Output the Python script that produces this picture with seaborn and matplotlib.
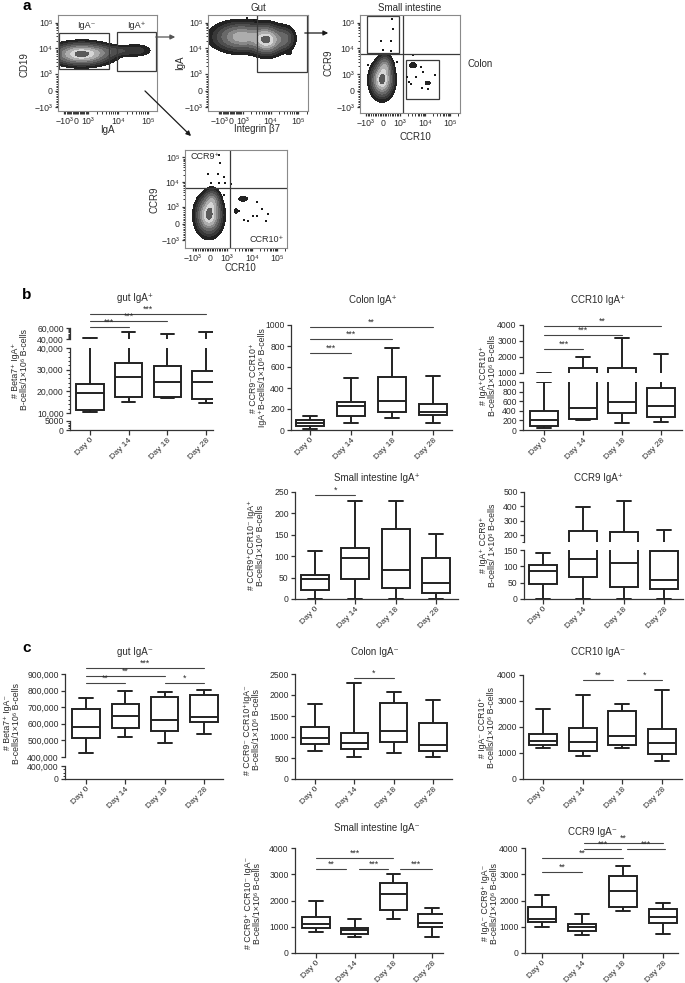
import numpy as np
import pandas as pd
import matplotlib
matplotlib.use("Agg")
import matplotlib.pyplot as plt
import seaborn as sns
from matplotlib.patches import Rectangle, FancyArrowPatch
from matplotlib.scale import SymmetricalLogTransform

# ---------------------------------------------------------------- data
DAYS = ["Day 0", "Day 14", "Day 18", "Day 28"]

# five-number summaries per day: (min, Q1, median, Q3, max)
gut_iga_pos = [(10300, 11400, 19100, 23250, 41000), (14900, 17500, 26750, 33200, 52700),
               (16900, 17200, 24200, 31700, 49000), (14500, 16300, 24200, 29400, 52700)]
colon_iga_pos = [(10, 35, 65, 100, 130), (65, 130, 230, 265, 500),
                 (110, 170, 275, 505, 780), (65, 140, 175, 245, 510)]
ccr10_iga_pos = [(50, 85, 210, 390, 1000), (200, 220, 450, 1310, 2000),
                 (155, 360, 585, 1300, 3200), (170, 275, 500, 870, 2200)]
si_iga_pos = [(0, 22, 46, 55, 111), (0, 46, 95, 120, 230),
              (0, 25, 68, 163, 230), (0, 15, 38, 95, 151)]
ccr9_iga_pos = [(0, 47, 86, 104, 142), (0, 66, 121, 228, 395),
                (0, 37, 109, 223, 435), (0, 31, 59, 146, 235)]
gut_iga_neg = [(426000, 516000, 580000, 692000, 756000), (520000, 576000, 646000, 720000, 796000),
               (482000, 556000, 622000, 760000, 792000), (536000, 610000, 640000, 772000, 806000)]
colon_iga_neg = [(675, 825, 968, 1230, 1786), (516, 706, 865, 1087, 2294),
                 (627, 873, 1143, 1817, 2079), (532, 659, 802, 1341, 1881)]
ccr10_iga_neg = [(1175, 1290, 1456, 1724, 2707), (894, 1086, 1405, 1967, 3218),
                 (1188, 1303, 1648, 2618, 2899), (702, 945, 1367, 1916, 3410)]
si_iga_neg = [(800, 952, 1104, 1370, 1992), (609, 736, 863, 952, 1294),
              (1294, 1637, 2246, 2665, 3000), (622, 990, 1142, 1497, 1700)]
ccr9_iga_neg = [(990, 1193, 1294, 1739, 2221), (673, 825, 977, 1104, 1497),
                (1612, 1751, 2348, 2944, 3299), (711, 1142, 1358, 1687, 1903)]

# significance brackets: (from group, to group, y value, label)
gut_iga_pos_sig = [(0, 1, 61800, "***"), (0, 2, 72700, "***"), (0, 3, 85500, "***")]
colon_iga_pos_sig = [(0, 1, 733, "***"), (0, 2, 867, "***"), (0, 3, 981, "**")]
ccr10_iga_pos_sig = [(0, 1, 2500, "***"), (0, 2, 3375, "***"), (0, 3, 3940, "**")]
si_iga_pos_sig = [(0, 1, 243, "*")]
ccr9_iga_pos_sig = []
gut_iga_neg_sig = [(0, 1, 843000, "**"), (2, 3, 843000, "*"), (0, 2, 890000, "**"), (0, 3, 936000, "***")]
colon_iga_neg_sig = [(1, 2, 2405, "*")]
ccr10_iga_neg_sig = [(1, 1.77, 3810, "**"), (2.12, 3, 3810, "*")]
si_iga_neg_sig = [(0, 0.77, 3200, "**"), (1.1, 1.87, 3200, "***"), (2.18, 3, 3200, "***"),
                  (0, 2, 3620, "***")]
ccr9_iga_neg_sig = [(0, 1, 3085, "**"), (0, 2, 3620, "**"), (1.05, 1.95, 3960, "***"),
                    (2.1, 3.05, 3960, "***"), (1.05, 3, 4190, "**")]

# flow cytometry populations: (centre x, centre y, spread x [decades], spread y [decades], weight)
cd19_iga_pops = [(450, 6000, 0.48, 0.21, 1.0), (3500, 7500, 0.30, 0.13, 0.12),
                 (12000, 8000, 0.25, 0.11, 0.10), (40000, 8300, 0.28, 0.13, 0.12)]
gut_pops = [(900, 28000, 0.50, 0.28, 0.75), (7500, 21000, 0.28, 0.28, 1.0),
            (32000, 24000, 0.20, 0.25, 0.30), (46000, 6600, 0.05, 0.05, 0.06)]
si_colon_pops = [(-60, 640, 0.22, 0.33, 1.0), (118, 2000, 0.15, 0.22, 0.4),
                 (3300, 2200, 0.10, 0.08, 0.07), (13000, 460, 0.09, 0.06, 0.06)]
ccr_pops = [(-60, 500, 0.25, 0.38, 1.0), (118, 1700, 0.16, 0.24, 0.4),
            (4400, 2100, 0.15, 0.08, 0.06), (2300, 760, 0.06, 0.10, 0.05)]
si_colon_dots_x = [530, 590, -118, 470, 20, 470, 3300, 820, -880, 6900, 8300, 1900, 2300,
                   2750, 7600, 13000, 25000, 4400]
si_colon_dots_y = [140000, 57000, 19500, 19500, 8700, 7900, 5500, 2950, 2240, 1900, 1200, 830,
                   520, 400, 150, 100, 940, 830]
ccr_dots_x = [530, 590, -118, 470, 820, 60, 530, 880, -760, 1450, 820, 16000, 25000, 44000,
              4800, 6900, 16000, 36000, 11000, 3000]
ccr_dots_y = [130000, 57000, 21000, 21000, 16000, 9100, 9100, 9100, 2300, 8300, 3000, 1600, 880,
              590, 235, 176, 470, 176, 470, 760]

# ---------------------------------------------------------------- style
sns.set_theme(style="ticks")
plt.rcParams["font.family"] = ["Liberation Sans", "DejaVu Sans"]
INK = "#222222"
TXT = "#2b2b2b"
plt.rcParams.update({
    "axes.edgecolor": "#333333", "axes.linewidth": 0.9,
    "xtick.color": "#333333", "ytick.color": "#333333",
    "xtick.labelcolor": TXT, "ytick.labelcolor": TXT,
    "xtick.labelsize": 6.2, "ytick.labelsize": 6.2,
    "xtick.major.size": 3, "ytick.major.size": 3,
    "xtick.major.width": 0.9, "ytick.major.width": 0.9,
    "ytick.minor.size": 1.8, "ytick.minor.width": 0.7,
    "xtick.minor.size": 1.8, "xtick.minor.width": 0.7,
    "xtick.major.pad": 1.5, "ytick.major.pad": 1.5,
})

W, H = 685, 983
fig = plt.figure(figsize=(W / 100, H / 100), dpi=100)


def px_axes(x0, y0, x1, y1):
    return fig.add_axes([x0 / W, 1 - y1 / H, (x1 - x0) / W, (y1 - y0) / H])


def ftext(x, y, s, **kw):
    kw.setdefault("color", TXT)
    return fig.text(x / W, 1 - y / H, s, **kw)


# ---------------------------------------------------------------- panel a (flow)
LT = 1000
LEVELS = [0.03, 0.08, 0.15, 0.25, 0.4, 0.55, 0.75, 0.9, 1.01]
SHADES = ["#222222", "#383838", "#4e4e4e", "#686868", "#888888", "#adadad", "#d6d6d6", "#5a5a5a"]
FLOW_TICKS = [-1000, 0, 1000, 1e4, 1e5]
FLOW_LABELS = ["\u221210\u00b3", "0", "10\u00b3", "10\u2074", "10\u2075"]
FLOW_MINOR = (list(np.arange(-900, 901, 100)) + list(np.arange(2e3, 1e4, 1e3))
              + list(np.arange(2e4, 1e5, 1e4)) + [2e5])


def flow_axes(rect, xlim, ylim, xL, yL, pops):
    ax = px_axes(*rect)
    ax.set_xscale("symlog", base=10, linthresh=LT, linscale=xL * 0.9)
    ax.set_yscale("symlog", base=10, linthresh=LT, linscale=yL * 0.9)
    tx = SymmetricalLogTransform(10, LT, xL * 0.9)
    ty = SymmetricalLogTransform(10, LT, yL * 0.9)
    # transformed coordinates in decades
    ux = np.linspace(*(tx.transform(np.array(xlim, float)) / LT), 300)
    uy = np.linspace(*(ty.transform(np.array(ylim, float)) / LT), 300)
    UX, UY = np.meshgrid(ux, uy)
    D = np.zeros_like(UX)
    for cx, cy, sx, sy, w in pops:
        ucx = tx.transform(np.array([cx], float))[0] / LT
        ucy = ty.transform(np.array([cy], float))[0] / LT
        D += w * np.exp(-0.5 * (((UX - ucx) / sx) ** 2 + ((UY - ucy) / sy) ** 2))
    D /= D.max()
    X = tx.inverted().transform(ux * LT)
    Y = ty.inverted().transform(uy * LT)
    ax.contourf(X, Y, D, levels=LEVELS, colors=SHADES)
    ax.set_xlim(xlim)
    ax.set_ylim(ylim)
    ax.set_xticks(FLOW_TICKS)
    ax.set_xticklabels(FLOW_LABELS)
    ax.set_yticks(FLOW_TICKS)
    ax.set_yticklabels(FLOW_LABELS)
    ax.set_xticks([v for v in FLOW_MINOR if xlim[0] < v < xlim[1]], minor=True)
    ax.set_yticks([v for v in FLOW_MINOR if ylim[0] < v < ylim[1]], minor=True)
    ax.tick_params(labelsize=6.3, length=2.5)
    for s in ax.spines.values():
        s.set_color("#8a8a8a")
        s.set_linewidth(0.8)
    ax.set_facecolor("white")
    return ax


def gate(ax, x0, x1, y0, y1):
    ax.add_patch(Rectangle((x0, y0), x1 - x0, y1 - y0, fill=False, ec="#3a3a3a", lw=0.9))


# plot 1: CD19 vs IgA
ax1 = flow_axes((58, 15, 157, 111), (-1600, 2e5), (-1400, 2e5), 0.4, 0.65, cd19_iga_pops)
gate(ax1, -1480, 5000, 1580, 40000)
gate(ax1, 9300, 1.85e5, 1300, 44000)
ax1.text(830, 80000, "IgA\u207b", ha="center", va="center", fontsize=6.5, color=TXT)
ax1.text(40000, 80000, "IgA\u207a", ha="center", va="center", fontsize=6.5, color=TXT)
ftext(107, 130, "IgA", ha="center", va="center", fontsize=7)
ftext(25, 65, "CD19", ha="center", va="center", rotation=90, fontsize=7)

# plot 2: IgA vs Integrin b7 (gut)
ax2 = flow_axes((208, 15, 308, 111), (-2500, 2.2e5), (-1400, 2e5), 0.42, 0.65, gut_pops)
gate(ax2, 3300, 2e5, 1200, 2e5)
ax2.scatter([2600, 3000, 1400], [1.3e5, 1.1e5, 1.5e5], s=1.5, c="k", marker="s", lw=0)
ftext(258, 8, "Gut", ha="center", va="center", fontsize=7)
ftext(257, 129, "Integrin \u03b27", ha="center", va="center", fontsize=7)
ftext(180, 63, "IgA", ha="center", va="center", rotation=90, fontsize=7)

# plot 3: CCR9 vs CCR10 (small intestine / colon)
ax3 = flow_axes((360, 15, 460, 113), (-1740, 2.5e5), (-1660, 2e5), 0.68, 0.65, si_colon_pops)
ax3.axvline(1300, color="#3a3a3a", lw=0.9)
ax3.axhline(6000, color="#3a3a3a", lw=0.9)
gate(ax3, -940, 940, 6600, 1.9e5)
gate(ax3, 1740, 36000, -490, 3500)
ax3.scatter(si_colon_dots_x, si_colon_dots_y, s=2, c="k", marker="s", lw=0)
ftext(410, 8, "Small intestine", ha="center", va="center", fontsize=7)
ftext(415, 137, "CCR10", ha="center", va="center", fontsize=7)
ftext(329, 63, "CCR9", ha="center", va="center", rotation=90, fontsize=7)
ftext(468, 64, "Colon", ha="left", va="center", fontsize=7)

# plot 4: CCR9 vs CCR10 (all IgA+)
ax4 = flow_axes((185, 150, 287, 248), (-2090, 2.5e5), (-2040, 2e5), 0.68, 0.68, ccr_pops)
ax4.axvline(1300, color="#3a3a3a", lw=0.9)
ax4.axhline(5750, color="#3a3a3a", lw=0.9)
ax4.scatter(ccr_dots_x, ccr_dots_y, s=2, c="k", marker="s", lw=0)
ax4.text(0.05, 0.93, "CCR9\u207a", transform=ax4.transAxes, ha="left", va="center", fontsize=6.5, color=TXT)
ax4.text(0.97, 0.09, "CCR10\u207a", transform=ax4.transAxes, ha="right", va="center", fontsize=6.5, color=TXT)
ftext(240, 268, "CCR10", ha="center", va="center", fontsize=7)
ftext(155, 200, "CCR9", ha="center", va="center", rotation=90, fontsize=7)


def arrow(p, q, color="k"):
    a = FancyArrowPatch((p[0] / W, 1 - p[1] / H), (q[0] / W, 1 - q[1] / H), transform=fig.transFigure,
                        arrowstyle="-|>", mutation_scale=7, lw=0.9, color=color)
    fig.add_artist(a)


arrow((153, 37), (178, 37), "#555555")
arrow((143, 89), (193, 138))
arrow((302, 33), (331, 33))

# ---------------------------------------------------------------- panels b, c (box plots)


def box_df(stats):
    rows = [(day, v) for day, s in zip(DAYS, stats) for v in s]
    return pd.DataFrame(rows, columns=["day", "value"])


def box_panel(stats, xpx, segs, sigs, title, title_xy, ylabel, ylabel_xy):
    x0, x1, d0, d28 = xpx
    unit = (d28 - d0) / 3
    xlim = ((x0 - d0) / unit, 3 + (x1 - d28) / unit)
    df = box_df(stats)
    axes = []
    for i, (lo, hi, pb, pt, ticks, labels, minors) in enumerate(segs):
        ax = px_axes(x0, pt, x1, pb)
        sns.boxplot(data=df, x="day", y="value", order=DAYS, whis=(0, 100), width=0.7,
                    color="white", linecolor=INK, linewidth=1.4, fliersize=0, ax=ax)
        ax.set_xlim(*xlim)
        ax.set_ylim(lo, hi)
        ax.set_yticks(ticks)
        ax.set_yticklabels(labels)
        ax.set_yticks(minors, minor=True)
        ax.set_xlabel("")
        ax.set_ylabel("")
        ax.spines["top"].set_visible(False)
        ax.spines["right"].set_visible(False)
        ax.patch.set_alpha(0)
        if i == 0:
            ax.set_xticks(range(4))
            ax.set_xticklabels(DAYS, rotation=45, ha="right", rotation_mode="anchor", fontsize=6.1)
            ax.tick_params(axis="x", length=3.5, pad=1.2)
        else:
            ax.spines["bottom"].set_visible(False)
            ax.tick_params(axis="x", bottom=False, labelbottom=False)
        axes.append(ax)
    top = axes[-1]
    for a, b, y, lab in sigs:
        top.plot([a, b], [y, y], color="#444444", lw=0.8, clip_on=False)
        top.annotate(lab, xy=((a + b) / 2, y), xytext=(0, 0.3), textcoords="offset points",
                     ha="center", va="bottom", fontsize=6.3, color=TXT, annotation_clip=False)
    ftext(*title_xy, title, ha="center", va="center", fontsize=7)
    ftext(*ylabel_xy, ylabel, ha="center", va="center", rotation=90, fontsize=6.3,
          multialignment="center", linespacing=1.05)
    return axes


def rng(a, b, s):
    return list(range(a, b + 1, s))


def lab(vals, comma=False):
    return [f"{v:,}" if comma else f"{v}" for v in vals]


# b, row 1
box_panel(gut_iga_pos, (70, 213, 90, 206),
          [(0, 5000, 430, 421, [0, 5000], ["0", "5000"], rng(1000, 4000, 1000)),
           (10000, 40000, 413, 348, rng(10000, 40000, 10000), lab(rng(10000, 40000, 10000), True),
            rng(12000, 38000, 2000)),
           (40000, 60000, 339, 328, [40000, 60000], lab([40000, 60000], True), rng(42000, 58000, 2000))],
          gut_iga_pos_sig, "gut IgA\u207a", (135, 298),
          "# Beta7\u207a IgA\u207a\nB-cells/1\u00d710\u2076 B-cells", (20, 370))
box_panel(colon_iga_pos, (291, 452, 310, 433),
          [(0, 1000, 430, 325, rng(0, 1000, 200), lab(rng(0, 1000, 200)), [])],
          colon_iga_pos_sig, "Colon IgA\u207a", (373, 300),
          "# CCR9\u207bCCR10\u207a\nIgA\u207aB-cells/1\u00d710\u2076 B-cells", (258, 378))
box_panel(ccr10_iga_pos, (523, 682, 544, 661),
          [(0, 1000, 430, 382, rng(0, 1000, 200), lab(rng(0, 1000, 200)), []),
           (1000, 4000, 373, 325, rng(1000, 4000, 1000), lab(rng(1000, 4000, 1000)), [])],
          ccr10_iga_pos_sig, "CCR10 IgA\u207a", (598, 300),
          "# IgA\u207aCCR10\u207a\nB-cells/1\u00d710\u2076 B-cells", (488, 376))

# b, row 2
box_panel(si_iga_pos, (295, 458, 315, 436),
          [(0, 250, 599, 492, rng(0, 250, 50), lab(rng(0, 250, 50)), [])],
          si_iga_pos_sig, "Small intestine IgA\u207a", (377, 478),
          "# CCR9\u207aCCR10\u207b IgA\u207a\nB-cells/1\u00d710\u2076 B-cells", (256, 545))
box_panel(ccr9_iga_pos, (524, 683, 543, 664),
          [(0, 150, 599, 550, rng(0, 150, 50), lab(rng(0, 150, 50)), []),
           (150, 500, 542, 492, rng(200, 500, 100), lab(rng(200, 500, 100)), [150])],
          ccr9_iga_pos_sig, "CCR9 IgA\u207a", (598, 478),
          "# IgA\u207a CCR9\u207a\nB-cells/ 1\u00d710\u2076 B-cells", (488, 545))

# c, row 1
box_panel(gut_iga_neg, (65, 223, 86, 204),
          [(0, 400000, 779, 766, [0, 400000], ["0", "400,000"], [100000, 200000, 300000]),
           (400000, 900000, 757, 674, rng(400000, 900000, 100000), lab(rng(400000, 900000, 100000), True), [])],
          gut_iga_neg_sig, "gut IgA\u207b", (135, 652),
          "# Beta7\u207a IgA\u207b\nB-cells/1\u00d710\u2076 B-cells", (12, 723))
box_panel(colon_iga_neg, (295, 452, 315, 433),
          [(0, 2500, 779, 674, rng(0, 2500, 500), lab(rng(0, 2500, 500)), [])],
          colon_iga_neg_sig, "Colon IgA\u207b", (375, 652),
          "# CCR9\u207b CCR10\u207aIgA\u207b\nB-cells/1\u00d710\u2076 B-cells", (252, 730))
box_panel(ccr10_iga_neg, (523, 682, 543, 662),
          [(0, 4000, 779, 675, rng(0, 4000, 1000), lab(rng(0, 4000, 1000)), [])],
          ccr10_iga_neg_sig, "CCR10 IgA\u207b", (598, 652),
          "# IgA\u207b CCR10\u207a\nB-cells/1\u00d710\u2076 B-cells", (487, 727))

# c, row 2
box_panel(si_iga_neg, (295, 443, 316, 432),
          [(0, 4000, 953, 848, rng(0, 4000, 1000), lab(rng(0, 4000, 1000)), [])],
          si_iga_neg_sig, "Small intestine IgA\u207b", (377, 828),
          "# CCR9\u207a CCR10\u207b IgA\u207b\nB-cells/1\u00d710\u2076 B-cells", (253, 903))
box_panel(ccr9_iga_neg, (525, 678, 542, 663),
          [(0, 4000, 953, 848, rng(0, 4000, 1000), lab(rng(0, 4000, 1000)), [])],
          ccr9_iga_neg_sig, "CCR9 IgA\u207b", (592, 832),
          "# IgA\u207b CCR9\u207a IgA\u207b\nB-cells/1\u00d710\u2076 B-cells", (490, 903))

# panel letters
for letter, (x, y) in {"a": (27, 6), "b": (27, 295), "c": (27, 648)}.items():
    ftext(x, y, letter, ha="center", va="center", fontsize=11, fontweight="bold", color="black")

fig.savefig("out.png", dpi=100)
